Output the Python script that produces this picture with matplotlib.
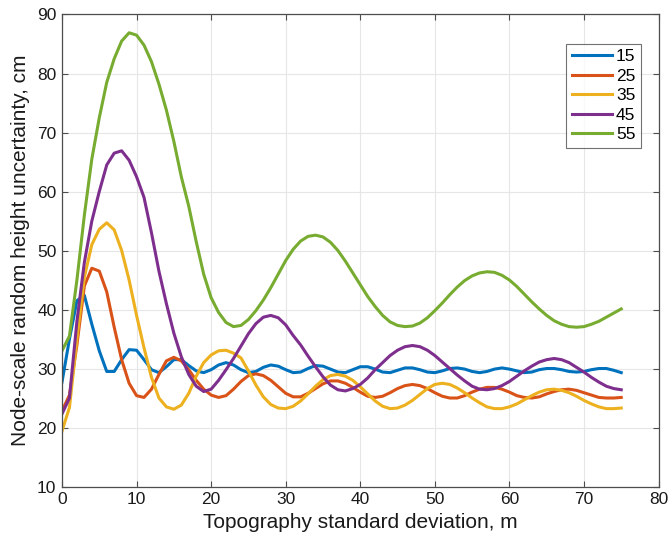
import numpy as np
import matplotlib
matplotlib.use('Agg')
import matplotlib.pyplot as plt

plt.rcParams['font.family'] = ['Liberation Sans', 'DejaVu Sans']

# topography standard deviation, m (1 m steps)
sigma = np.arange(0, 76)

labels = ['15', '25', '35', '45', '55']
colors = ['#0072BD', '#D95319', '#EDB120', '#7E2F8E', '#77AC30']

unc_15 = [27.7, 35.0, 41.5, 42.4, 37.5, 33.0, 29.5, 29.5, 31.5, 33.2,
          33.1, 31.5, 29.8, 29.3, 30.3, 31.5, 31.5, 30.5, 29.6, 29.3,
          29.8, 30.6, 31.0, 30.6, 29.8, 29.3, 29.5, 30.2, 30.6, 30.4,
          29.8, 29.3, 29.4, 30.0, 30.5, 30.4, 29.9, 29.4, 29.3, 29.8,
          30.3, 30.3, 29.9, 29.4, 29.3, 29.7, 30.1, 30.1, 29.8, 29.4,
          29.3, 29.6, 30.0, 30.1, 29.9, 29.5, 29.3, 29.5, 29.9, 30.1,
          29.9, 29.6, 29.3, 29.4, 29.8, 30.0, 30.0, 29.8, 29.5, 29.4,
          29.5, 29.8, 30.0, 30.0, 29.7, 29.3]

unc_25 = [22.8, 25.5, 34.0, 44.0, 47.0, 46.5, 43.0, 37.0, 31.5, 27.5,
          25.4, 25.1, 26.5, 29.0, 31.3, 31.9, 31.3, 29.8, 28.0, 26.5,
          25.5, 25.1, 25.4, 26.5, 27.8, 28.8, 29.1, 28.8, 28.0, 26.9,
          25.8, 25.2, 25.2, 25.8, 26.6, 27.4, 27.9, 27.9, 27.5, 26.8,
          26.0, 25.3, 25.1, 25.3, 25.9, 26.6, 27.1, 27.3, 27.1, 26.6,
          25.9, 25.3, 25.0, 25.0, 25.4, 26.0, 26.5, 26.8, 26.8, 26.5,
          26.0, 25.4, 25.1, 25.0, 25.2, 25.7, 26.1, 26.4, 26.5, 26.3,
          25.9, 25.5, 25.1, 25.0, 25.0, 25.1]

unc_35 = [19.4, 23.4, 35.0, 45.5, 51.0, 53.6, 54.7, 53.5, 50.0, 45.0,
          39.0, 33.5, 28.5, 25.0, 23.5, 23.1, 23.8, 25.8, 28.7, 31.0,
          32.3, 33.0, 33.1, 32.6, 31.8, 29.6, 27.2, 25.2, 23.9, 23.3,
          23.2, 23.6, 24.5, 25.7, 27.0, 28.1, 28.8, 29.0, 28.7, 28.0,
          26.9, 25.7, 24.5, 23.6, 23.2, 23.3, 23.8, 24.6, 25.6, 26.6,
          27.3, 27.5, 27.3, 26.7, 25.9, 25.0, 24.2, 23.5, 23.2, 23.2,
          23.5, 24.0, 24.7, 25.4, 26.0, 26.4, 26.5, 26.3, 25.9, 25.3,
          24.6, 24.0, 23.5, 23.2, 23.2, 23.3]

unc_45 = [22.3, 25.0, 38.0, 48.0, 55.0, 60.0, 64.5, 66.5, 66.9, 65.3,
          62.5, 59.0, 53.0, 46.5, 41.0, 36.0, 32.0, 29.0, 27.0, 26.1,
          26.5, 28.0, 29.8, 31.7, 33.8, 35.9, 37.6, 38.7, 39.0, 38.6,
          37.4, 35.6, 34.0, 32.1, 30.3, 28.6, 27.2, 26.4, 26.2, 26.6,
          27.3, 28.4, 29.8, 31.0, 32.2, 33.1, 33.7, 33.9, 33.7, 33.1,
          32.2, 31.1, 30.0, 28.9, 27.9, 27.0, 26.5, 26.4, 26.6, 27.1,
          27.8, 28.7, 29.6, 30.4, 31.1, 31.5, 31.7, 31.5, 31.0, 30.2,
          29.4, 28.5, 27.7, 27.0, 26.6, 26.4]

unc_55 = [33.0, 35.5, 45.0, 56.0, 65.5, 72.5, 78.5, 82.5, 85.5, 86.9,
          86.5, 84.8, 82.0, 78.2, 73.8, 68.5, 62.5, 57.5, 51.5, 46.0,
          42.0, 39.5, 37.8, 37.1, 37.3, 38.3, 39.8, 41.6, 43.7, 46.0,
          48.3, 50.2, 51.6, 52.4, 52.6, 52.3, 51.4, 50.0, 48.2, 46.2,
          44.2, 42.2, 40.5, 39.0, 37.9, 37.3, 37.1, 37.2, 37.7, 38.6,
          39.8, 41.1, 42.5, 43.8, 44.9, 45.7, 46.2, 46.4, 46.3, 45.8,
          45.0, 43.9, 42.6, 41.3, 40.1, 39.0, 38.1, 37.5, 37.1, 37.0,
          37.1, 37.5, 38.0, 38.7, 39.4, 40.1]

series = [unc_15, unc_25, unc_35, unc_45, unc_55]

fig = plt.figure(figsize=(6.71, 5.41), dpi=100)
ax = fig.add_axes([0.0924, 0.1007, 0.889, 0.8725])

for vals, lab, c in zip(series, labels, colors):
    ax.plot(sigma, vals, color=c, lw=2.2, label=lab)

ax.set_xlim(0, 80)
ax.set_ylim(10, 90)
ax.set_xticks(np.arange(0, 81, 10))
ax.set_yticks(np.arange(10, 91, 10))
ax.grid(True, color='#e6e6e6', lw=0.8)
ax.set_axisbelow(True)
for s in ax.spines.values():
    s.set_color('#4d4d4d')
    s.set_linewidth(0.9)
ax.tick_params(direction='in', top=True, right=True, length=4, width=0.8,
               color='#4d4d4d', labelsize=12.5, labelcolor='#1a1a1a', pad=4)

ax.set_xlabel('Topography standard deviation, m', fontsize=15, color='#1a1a1a', labelpad=4)
ax.set_ylabel('Node-scale random height uncertainty, cm', fontsize=15, color='#1a1a1a', labelpad=5)

leg = ax.legend(loc='upper right', bbox_to_anchor=(0.970, 0.9375), borderaxespad=0,
                fontsize=12.5, frameon=True, fancybox=False, handlelength=2.3,
                handletextpad=0.25, labelspacing=0.25, borderpad=0.3)
leg.get_frame().set_edgecolor('#4d4d4d')
leg.get_frame().set_linewidth(0.8)

fig.savefig('out.png', dpi=100)
